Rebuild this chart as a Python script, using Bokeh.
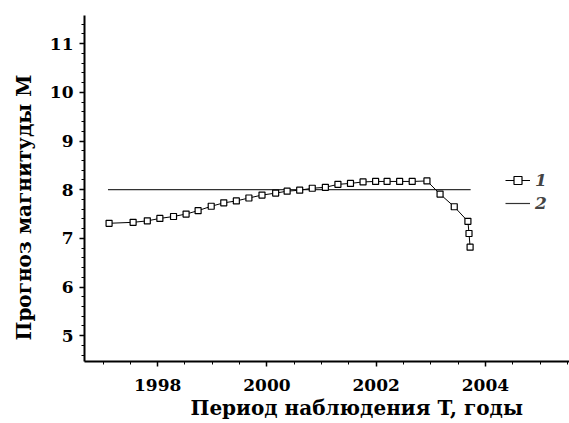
from bokeh.plotting import figure
from bokeh.models import Range1d, SingleIntervalTicker, Legend, LegendItem, Title
from bokeh.embed import file_html
from bokeh.resources import INLINE

# Series 1: magnitude forecast M vs observation period T
years = [1997.11, 1997.55, 1997.81, 1998.04, 1998.29, 1998.52, 1998.74, 1998.98,
         1999.21, 1999.44, 1999.67, 1999.91, 2000.16, 2000.37, 2000.60, 2000.83,
         2001.07, 2001.30, 2001.53, 2001.76, 2001.99, 2002.20, 2002.43, 2002.66,
         2002.93, 2003.17, 2003.43, 2003.68, 2003.70, 2003.72]
magnitude = [7.31, 7.33, 7.36, 7.41, 7.45, 7.50, 7.57, 7.66,
             7.73, 7.77, 7.83, 7.89, 7.93, 7.97, 7.99, 8.03,
             8.05, 8.11, 8.13, 8.16, 8.17, 8.17, 8.17, 8.17,
             8.18, 7.91, 7.65, 7.35, 7.10, 6.82]
# Series 2: actual magnitude level
level_years = [1997.09, 2003.73]
level_values = [8.0, 8.0]

series_labels = ["1", "2"]
x_label = "Период наблюдения  T, годы"
y_label = "Прогноз магнитуды M"

FONT = "DejaVu Serif"

p = figure(width=569, height=423, output_backend="svg", toolbar_location=None,
           x_range=Range1d(1996.66, 2005.54), y_range=Range1d(4.47, 11.58),
           min_border_left=84, min_border_right=0, min_border_top=15, min_border_bottom=62)
p.outline_line_color = None
p.grid.visible = False
p.background_fill_color = "white"
p.border_fill_color = "white"

r2 = p.line(level_years, level_values, line_color="#333333", line_width=1.2)
r1l = p.line(years, magnitude, line_color="black", line_width=1)
r1s = p.scatter(years, magnitude, marker="square", size=6, fill_color="white",
                line_color="black", line_width=1.2)

p.xaxis.ticker = SingleIntervalTicker(interval=2, num_minor_ticks=4)
p.yaxis.ticker = SingleIntervalTicker(interval=1, num_minor_ticks=5)
for ax in (p.xaxis[0], p.yaxis[0]):
    ax.axis_line_width = 2
    ax.axis_line_color = "black"
    ax.major_tick_line_color = "black"
    ax.minor_tick_line_color = "black"
    ax.major_tick_line_width = 1.5
    ax.minor_tick_line_width = 1
    ax.major_tick_out = 5
    ax.major_tick_in = 0
    ax.minor_tick_out = 3
    ax.minor_tick_in = 0
    ax.major_label_text_font = FONT
    ax.major_label_text_font_style = "bold"
    ax.major_label_text_font_size = "17px"
    ax.major_label_text_color = "black"
p.xaxis.major_label_standoff = 12
p.yaxis.major_label_standoff = 6

p.add_layout(Title(text=x_label, align="left", offset=106, standoff=0,
                   text_font=FONT, text_font_style="bold", text_font_size="20px",
                   text_color="black"), "below")
p.add_layout(Title(text=y_label, align="left", offset=21, standoff=18,
                   vertical_align="top",
                   text_font=FONT, text_font_style="bold", text_font_size="20px",
                   text_color="black"), "left")

legend = Legend(items=[LegendItem(label=series_labels[0], renderers=[r1l, r1s]),
                       LegendItem(label=series_labels[1], renderers=[r2])],
                location=(421, 148), border_line_color=None, background_fill_alpha=0,
                padding=0, margin=0, spacing=3, glyph_width=25, glyph_height=20,
                label_height=20, label_standoff=5,
                label_text_font=FONT, label_text_font_style="bold italic",
                label_text_font_size="17px")
p.add_layout(legend)

open("out.html", "w").write(file_html(p, INLINE))
